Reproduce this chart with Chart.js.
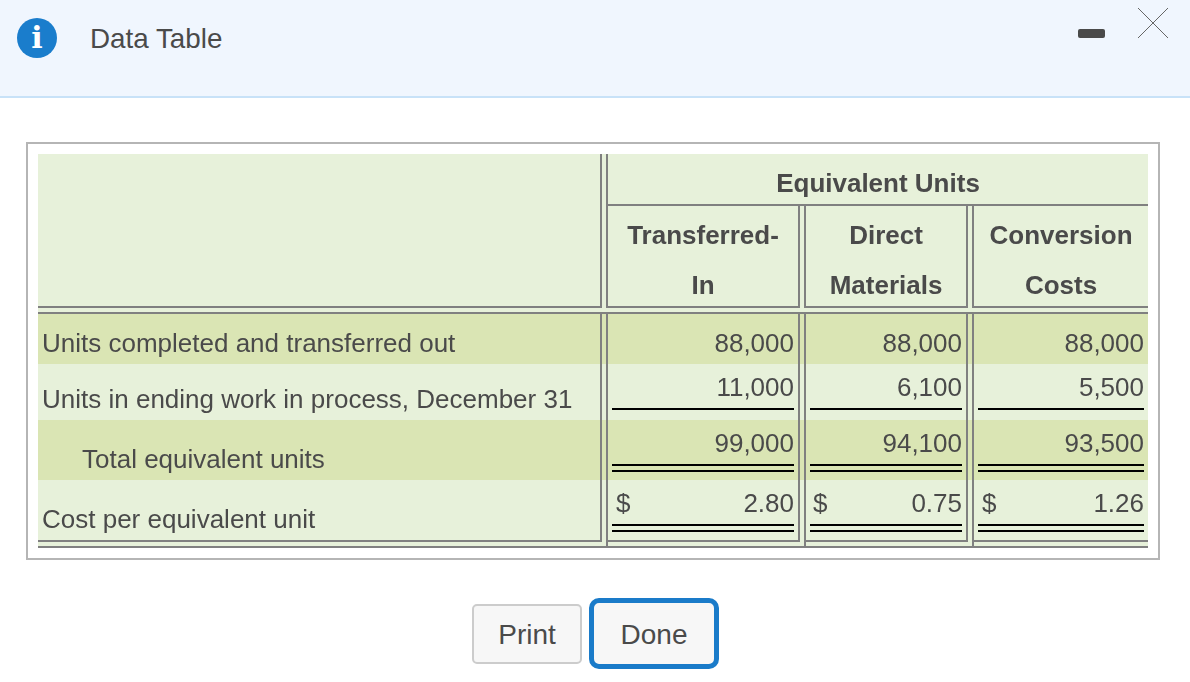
<!DOCTYPE html>
<html>
<head>
<meta charset="utf-8">
<title>Data Table</title>
<script src="https://cdn.jsdelivr.net/npm/chart.js@4/dist/chart.umd.min.js"></script>
<style>
  html, body { margin: 0; padding: 0; background: #fff; }
  body { width: 1190px; height: 682px; overflow: hidden; position: relative; font-family: "Liberation Sans", Arial, sans-serif; color: #4a4a4a; }
  #wrap { position: absolute; left: 0; top: 0; width: 1190px; height: 682px; }
  #header { position: absolute; left: 0; top: 0; width: 1190px; height: 96px; background: #f0f6fe; border-bottom: 2px solid #c8e2f8; }
  #icon { position: absolute; left: 17px; top: 18px; width: 40px; height: 40px; border-radius: 50%; background: #1a7dcc; color: #fff; font: bold 30px/40px "DejaVu Serif", serif; text-align: center; }
  #title { position: absolute; left: 90px; top: 21px; font-size: 27.8px; line-height: 36px; }
  #minus { position: absolute; left: 1078px; top: 29px; width: 27px; height: 9px; border-radius: 2px; background: #4a4a4a; }
  #close { position: absolute; left: 1137px; top: 7px; }
  #box { position: absolute; left: 26px; top: 142px; width: 1130px; height: 414px; border: 2px solid #b5b5b5; }
  .btn { position: absolute; box-sizing: border-box; text-align: center; background: #f7f7f7; font-size: 28px; color: #4a4a4a; }
  #print { left: 472px; top: 604px; width: 110px; height: 60px; line-height: 58px; border: 2px solid #ccc; border-radius: 5px; }
  #done { left: 589px; top: 598px; width: 130px; height: 71px; line-height: 63px; border: 5px solid #1a7bc9; border-radius: 10px; }
</style>
</head>
<body>
<div id="header">
  <div id="icon">i</div>
  <div id="title">Data Table</div>
  <div id="minus"></div>
  <svg id="close" width="32" height="32"><path d="M1 1L31 31M31 1L1 31" stroke="#666" stroke-width="1" fill="none"/></svg>
</div>
<div id="box"></div>
<div id="wrap"><canvas id="chart" width="1190" height="682"></canvas></div>
<div class="btn" id="print">Print</div>
<div class="btn" id="done">Done</div>

<script>
const groupHeader = "Equivalent Units"
const columnHeaders = [["Transferred-", "In"], ["Direct", "Materials"], ["Conversion", "Costs"]]
const rowLabels = [
  "Units completed and transferred out",
  "Units in ending work in process, December 31",
  "Total equivalent units",
  "Cost per equivalent unit"
]
const transferredIn = [88000, 11000, 99000, 2.80]
const directMaterials = [88000, 6100, 94100, 0.75]
const conversionCosts = [88000, 5500, 93500, 1.26]
const columns = [transferredIn, directMaterials, conversionCosts]

// layout of the table, in page pixels (the scales below run 1:1 with the page)
const tableLeft = 38
const tableRight = 1148
const tableTop = 154
const valueRight = [794, 962, 1144]
const dollarLeft = [616, 813, 982]
const headerCenter = [703, 886, 1061]
const valueBase = [352, 396, 452, 512]
const labelBase = [352, 408, 468, 528]
const labelIndent = [42, 42, 82, 42]
const underlines = [[612, 794], [810, 962], [978, 1144]]

const lightGreen = "#e7f1da"
const darkGreen = "#dae5b4"
const grey = "#808080"
const black = "#000000"

// every band and rule is a thick line dataset going through the scales
function rule(x0, y0, x1, y1, width, color, order) {
  return {
    type: "scatter",
    showLine: true,
    data: [{ x: x0, y: y0 }, { x: x1, y: y1 }],
    borderColor: color,
    borderWidth: width,
    borderCapStyle: "butt",
    pointRadius: 0,
    pointHoverRadius: 0,
    tension: 0,
    clip: false,
    order: order
  }
}

function band(top, bottom, color) {
  const mid = (top + bottom) / 2
  return rule(tableLeft, mid, tableRight, mid, bottom - top, color, 5)
}

function hRule(y, x0, x1) {
  return rule(x0, y, x1, y, 2, grey, 3)
}

function vRule(x, y0, y1) {
  return rule(x, y0, x, y1, 2, grey, 3)
}

function blackRule(y, span) {
  return rule(span[0], y, span[1], y, 2, black, 2)
}

const datasets = [
  band(tableTop, 314, lightGreen),
  band(314, 364, darkGreen),
  band(364, 420, lightGreen),
  band(420, 480, darkGreen),
  band(480, 548, lightGreen),

  hRule(205, 606, tableRight),
  hRule(307, tableLeft, 602),
  hRule(307, 606, 800),
  hRule(307, 804, 968),
  hRule(307, 972, tableRight),
  hRule(313, tableLeft, tableRight),
  hRule(541, tableLeft, 602),
  hRule(541, 606, 800),
  hRule(541, 804, 968),
  hRule(541, 972, tableRight),
  hRule(547, tableLeft, tableRight),

  vRule(601, tableTop, 308),
  vRule(607, tableTop, 308),
  vRule(799, 206, 308),
  vRule(805, 206, 308),
  vRule(967, 206, 308),
  vRule(973, 206, 308),
  vRule(601, 314, 542),
  vRule(607, 314, 548),
  vRule(799, 314, 542),
  vRule(805, 314, 548),
  vRule(967, 314, 542),
  vRule(973, 314, 548)
]

underlines.forEach(span => {
  datasets.push(blackRule(409, span))
  datasets.push(blackRule(465, span))
  datasets.push(blackRule(471, span))
  datasets.push(blackRule(525, span))
  datasets.push(blackRule(531, span))
})

// the values themselves, one invisible point per cell, labelled by the plugin below
columns.forEach((values, c) => {
  datasets.push({
    type: "scatter",
    label: columnHeaders[c].join(" "),
    data: values.map((v, r) => ({ x: valueRight[c], y: valueBase[r], value: v })),
    pointRadius: 0,
    pointHoverRadius: 0,
    order: 1
  })
})

function formatValue(v) {
  return v < 100
    ? v.toFixed(2)
    : v.toLocaleString("en-US")
}

const tableText = {
  id: "tableText",
  afterDatasetsDraw(chart) {
    const { ctx, scales } = chart
    const px = v => scales.x.getPixelForValue(v)
    const py = v => scales.y.getPixelForValue(v)
    const put = (text, x, y, align, bold) => {
      ctx.font = (bold ? "bold " : "") + "26px 'Liberation Sans', Arial, sans-serif"
      ctx.textAlign = align
      ctx.textBaseline = "alphabetic"
      ctx.fillStyle = "#4a4a4a"
      ctx.fillText(text, px(x), py(y))
    }

    ctx.save()
    put(groupHeader, 878, 192, "center", true)
    columnHeaders.forEach((lines, c) => {
      put(lines[0], headerCenter[c], 244, "center", true)
      put(lines[1], headerCenter[c], 294, "center", true)
    })
    rowLabels.forEach((label, r) => put(label, labelIndent[r], labelBase[r], "left", false))

    chart.data.datasets.forEach(ds => {
      if (!ds.label) return
      ds.data.forEach(p => put(formatValue(p.value), p.x, p.y, "right", false))
    })
    dollarLeft.forEach(x => put("$", x, valueBase[3], "left", false))
    ctx.restore()
  }
}

new Chart(document.getElementById("chart"), {
  type: "scatter",
  data: { datasets: datasets },
  plugins: [tableText],
  options: {
    responsive: false,
    animation: false,
    devicePixelRatio: 1,
    layout: { padding: 0 },
    events: [],
    plugins: {
      legend: { display: false },
      title: { display: false },
      tooltip: { enabled: false }
    },
    scales: {
      x: { type: "linear", min: 0, max: 1190, display: false },
      y: { type: "linear", min: 0, max: 682, reverse: true, display: false }
    }
  }
})
</script>
</body>
</html>
